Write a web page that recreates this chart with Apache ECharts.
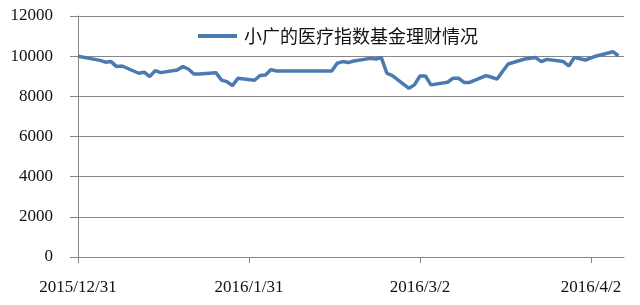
<!DOCTYPE html>
<html>
<head>
<meta charset="utf-8">
<script src="https://cdn.jsdelivr.net/npm/echarts@6/dist/echarts.min.js"></script>
<style>
html,body{margin:0;padding:0;background:#fff;}
#c{width:640px;height:305px;}
</style>
</head>
<body>
<div id="c"></div>
<script>
var seriesName = '小广的医疗指数基金理财情况';
var dates = [
 '2015/12/31','2016/1/4','2016/1/5','2016/1/6','2016/1/7','2016/1/8',
 '2016/1/11','2016/1/12','2016/1/13','2016/1/14','2016/1/15',
 '2016/1/18','2016/1/19','2016/1/20','2016/1/21','2016/1/22',
 '2016/1/25','2016/1/26','2016/1/27','2016/1/28','2016/1/29',
 '2016/2/1','2016/2/2','2016/2/3','2016/2/4','2016/2/5',
 '2016/2/15','2016/2/16','2016/2/17','2016/2/18','2016/2/19',
 '2016/2/22','2016/2/23','2016/2/24','2016/2/25','2016/2/26',
 '2016/2/29','2016/3/1','2016/3/2','2016/3/3','2016/3/4',
 '2016/3/7','2016/3/8','2016/3/9','2016/3/10','2016/3/11',
 '2016/3/14','2016/3/15','2016/3/16','2016/3/17','2016/3/18',
 '2016/3/21','2016/3/22','2016/3/23','2016/3/24','2016/3/25',
 '2016/3/28','2016/3/29','2016/3/30','2016/3/31','2016/4/1',
 '2016/4/3','2016/4/6','2016/4/7'
];
var values = [
 10000,9790,9700,9730,9480,9510,
 9150,9200,8980,9280,9180,
 9310,9480,9360,9110,9110,
 9180,8810,8730,8530,8900,
 8800,9040,9060,9330,9260,
 9260,9650,9730,9680,9760,
 9890,9860,9930,9150,9030,
 8400,8570,9010,9010,8570,
 8700,8900,8900,8690,8690,
 9030,8950,8860,9250,9610,
 9860,9900,9930,9730,9840,
 9730,9510,9940,9870,9810,
 10010,10220,10020
];
var xTickLabels = ['2015/12/31','2016/1/31','2016/3/2','2016/4/2'];
var yTicks = [0,2000,4000,6000,8000,10000,12000];

function dayOffset(s){
  var p = s.split('/').map(Number);
  var b = Date.UTC(2015,11,31);
  return Math.round((Date.UTC(p[0],p[1]-1,p[2]) - b)/86400000);
}
var xTickDays = xTickLabels.map(dayOffset);
var labelMap = {};
xTickDays.forEach(function(d,i){ labelMap[d] = xTickLabels[i]; });
var pts = dates.map(function(d,i){ return [dayOffset(d), values[i]]; });

var chart = echarts.init(document.getElementById('c'), null, {renderer:'canvas'});
chart.setOption({
  animation:false,
  backgroundColor:'#fff',
  grid:{left:78,right:16,top:16,bottom:48,containLabel:false},
  legend:{
    left:193, top:22,
    icon:'rect', itemWidth:39, itemHeight:4, itemGap:10,
    textStyle:{fontFamily:'Noto Sans CJK SC', fontSize:18, color:'#111', padding:[0,0,0,2]},
    data:[seriesName]
  },
  xAxis:{
    type:'value', min:0, max:99, interval:31,
    splitLine:{show:false},
    axisLine:{lineStyle:{color:'#868686',width:1}},
    axisTick:{show:true, length:6, lineStyle:{color:'#868686'}, customValues:xTickDays},
    axisLabel:{
      customValues:xTickDays,
      margin:22,
      fontFamily:'Liberation Serif', fontSize:17, color:'#111',
      formatter:function(v){ return labelMap[v] || ''; }
    }
  },
  yAxis:{
    type:'value', min:0, max:12000, interval:2000,
    axisLine:{show:true, lineStyle:{color:'#868686',width:1}},
    axisTick:{show:true, length:8, lineStyle:{color:'#868686'}},
    splitLine:{show:true, lineStyle:{color:'#868686',width:1}},
    axisLabel:{
      customValues:yTicks,
      margin:25, fontFamily:'Liberation Serif', fontSize:17, color:'#111',
      formatter:function(v){ return String(v); }
    }
  },
  series:[{
    name:seriesName, type:'line', data:pts,
    showSymbol:false, symbol:'none',
    lineStyle:{color:'#4a7ab0', width:3.5},
    itemStyle:{color:'#4a7ab0'}
  }]
});
</script>
</body>
</html>
